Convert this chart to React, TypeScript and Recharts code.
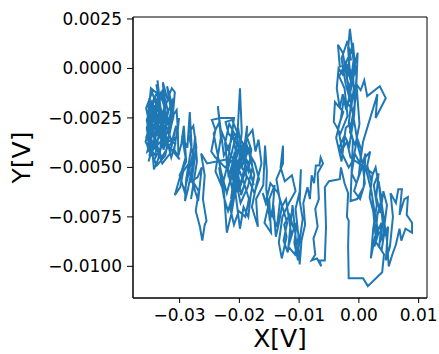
import { LineChart, Line, XAxis, YAxis, ReferenceArea } from "recharts";

// Trace of the probe voltage, walked segment by segment (volts)
const leftCluster: [number, number][] = [
  [-0.0342, -0.0031], [-0.0351, -0.0024], [-0.0338, -0.0038], [-0.0354, -0.0042], [-0.0344, -0.0029],
  [-0.033, -0.0035], [-0.0347, -0.0018], [-0.0336, -0.0011], [-0.034, -0.0027], [-0.0326, -0.0021],
  [-0.0333, -0.0043], [-0.0349, -0.0036], [-0.0355, -0.0026], [-0.0341, -0.0015], [-0.0329, -0.0028],
  [-0.0337, -0.0006], [-0.0333, -0.0019], [-0.0345, -0.004], [-0.0352, -0.0047], [-0.0339, -0.0033],
  [-0.0324, -0.0038], [-0.0331, -0.0024], [-0.032, -0.0016], [-0.0328, -0.0007], [-0.0323, -0.003],
  [-0.0336, -0.0046], [-0.0343, -0.0051], [-0.0348, -0.0032], [-0.0356, -0.002], [-0.0346, -0.0012],
  [-0.0334, -0.0023], [-0.0327, -0.0041], [-0.0318, -0.0034], [-0.0314, -0.0022], [-0.0321, -0.0009],
  [-0.0311, -0.002], [-0.0319, -0.0031], [-0.0332, -0.0037], [-0.035, -0.0043], [-0.0344, -0.0023],
  [-0.0337, -0.0017], [-0.0325, -0.0027], [-0.0313, -0.0037], [-0.0306, -0.0029], [-0.0316, -0.0043],
  [-0.0329, -0.0048], [-0.034, -0.0039], [-0.0353, -0.0034], [-0.0347, -0.0025], [-0.0335, -0.003],
  [-0.0322, -0.0024], [-0.031, -0.0015], [-0.0318, -0.0027], [-0.0332, -0.0013], [-0.0339, -0.0021],
  [-0.0351, -0.0015], [-0.0343, -0.0035], [-0.033, -0.0045], [-0.032, -0.004], [-0.0304, -0.0034],
  [-0.0301, -0.0025], [-0.0309, -0.0041], [-0.03, -0.0046],
];

const leftClusterReturn: [number, number][] = [
  [-0.0349, -0.0028], [-0.0356, -0.0035], [-0.0346, -0.0039], [-0.0352, -0.0019], [-0.0343, -0.0026],
  [-0.0335, -0.0015], [-0.0339, -0.0008], [-0.0331, -0.0016], [-0.0327, -0.001], [-0.0323, -0.0019],
  [-0.0334, -0.0032], [-0.0341, -0.0044], [-0.035, -0.004], [-0.0355, -0.003], [-0.0345, -0.0021],
  [-0.0333, -0.0027], [-0.0326, -0.0035], [-0.0315, -0.003], [-0.031, -0.0024], [-0.0317, -0.0013],
  [-0.0313, -0.001], [-0.0308, -0.0012], [-0.0312, -0.0026], [-0.0324, -0.0044], [-0.0338, -0.0049],
  [-0.0346, -0.0044], [-0.0357, -0.0037], [-0.035, -0.0031], [-0.0341, -0.0036], [-0.0331, -0.0021],
  [-0.0336, -0.0013], [-0.0348, -0.001], [-0.0353, -0.0025], [-0.034, -0.003], [-0.0328, -0.0033],
  [-0.0319, -0.0022], [-0.0325, -0.0015], [-0.033, -0.0039], [-0.0344, -0.0047], [-0.0335, -0.0042],
  [-0.0322, -0.0036], [-0.0307, -0.0038], [-0.0314, -0.0045], [-0.0327, -0.0029], [-0.0337, -0.0024],
  [-0.0347, -0.0033], [-0.0354, -0.004], [-0.0342, -0.002], [-0.033, -0.0012], [-0.032, -0.0028],
  [-0.0305, -0.0021], [-0.0303, -0.0031],
];

const trailOut: [number, number][] = [
  [-0.0302, -0.0044], [-0.0297, -0.0038], [-0.0293, -0.0029], [-0.0289, -0.0047], [-0.03, -0.0054],
  [-0.0292, -0.0062], [-0.0284, -0.0052], [-0.0278, -0.0043], [-0.0285, -0.0033], [-0.0277, -0.0029],
  [-0.0272, -0.004], [-0.028, -0.0057], [-0.027, -0.0055], [-0.0263, -0.005], [-0.0269, -0.0067],
  [-0.0276, -0.006], [-0.0287, -0.0049],
];

const leftTrail: [number, number][] = [
  [-0.0294, -0.0052], [-0.0299, -0.006], [-0.0308, -0.0064], [-0.029, -0.0045], [-0.0296, -0.0034],
  [-0.0287, -0.004], [-0.0283, -0.0022], [-0.028, -0.0039], [-0.0289, -0.0056], [-0.0291, -0.0067],
  [-0.0286, -0.0061], [-0.0279, -0.005], [-0.0274, -0.0034], [-0.0271, -0.0047], [-0.0281, -0.0066],
  [-0.0276, -0.0058], [-0.0268, -0.0062], [-0.0273, -0.0072], [-0.0266, -0.008], [-0.0262, -0.0087],
  [-0.0258, -0.0079], [-0.0255, -0.0077], [-0.0261, -0.0066], [-0.0258, -0.0054], [-0.0264, -0.0043],
  [-0.0254, -0.0048],
];

const midCore: [number, number][] = [
  [-0.0222, -0.0046], [-0.0215, -0.0058], [-0.0208, -0.0042], [-0.0201, -0.0053], [-0.0194, -0.0038],
  [-0.0188, -0.0055], [-0.0197, -0.0064], [-0.0205, -0.0047], [-0.0212, -0.0061], [-0.0219, -0.0051],
  [-0.021, -0.0039], [-0.0202, -0.003], [-0.0195, -0.0045], [-0.0185, -0.0052], [-0.018, -0.0041],
  [-0.0188, -0.0034], [-0.0199, -0.005], [-0.0206, -0.006], [-0.0213, -0.0054], [-0.0221, -0.0063],
  [-0.023, -0.0053], [-0.0238, -0.0041], [-0.0243, -0.0033], [-0.0235, -0.0028], [-0.0227, -0.0034],
  [-0.0216, -0.0043], [-0.0203, -0.0049], [-0.0192, -0.0058], [-0.0184, -0.0066], [-0.019, -0.0075],
  [-0.0201, -0.0072], [-0.0209, -0.0079], [-0.0215, -0.0071], [-0.0206, -0.0055], [-0.0198, -0.0042],
  [-0.0186, -0.0047], [-0.0176, -0.0059], [-0.0182, -0.0052], [-0.0191, -0.0044], [-0.0204, -0.0038],
  [-0.0218, -0.0033], [-0.0223, -0.0027], [-0.0212, -0.0026], [-0.02, -0.0035], [-0.0187, -0.0041],
  [-0.0174, -0.0048], [-0.0167, -0.0056], [-0.0175, -0.0063], [-0.0183, -0.0057], [-0.0194, -0.0051],
  [-0.0207, -0.0045], [-0.0224, -0.005], [-0.024, -0.0045],
];

const midCluster: [number, number][] = [
  [-0.0247, -0.0042], [-0.024, -0.0031], [-0.0246, -0.0026], [-0.0232, -0.0025], [-0.0209, -0.0025],
  [-0.0214, -0.0037], [-0.0226, -0.0044], [-0.0236, -0.0019], [-0.0231, -0.0035], [-0.024, -0.0052],
  [-0.0229, -0.006], [-0.022, -0.0049], [-0.0212, -0.0031], [-0.0205, -0.0044], [-0.0199, -0.001],
  [-0.0196, -0.0032], [-0.0203, -0.0055], [-0.0214, -0.0066], [-0.0207, -0.005], [-0.0193, -0.0043],
  [-0.0187, -0.0029], [-0.0191, -0.0053], [-0.02, -0.0061], [-0.021, -0.0046], [-0.0218, -0.0055],
  [-0.0224, -0.0038], [-0.0217, -0.0028], [-0.0203, -0.0036], [-0.0195, -0.0049], [-0.0183, -0.004],
  [-0.0178, -0.005], [-0.0186, -0.006], [-0.0198, -0.0068], [-0.0205, -0.0058], [-0.0219, -0.0072],
  [-0.0226, -0.0065], [-0.0234, -0.005], [-0.0227, -0.0057], [-0.0221, -0.0083], [-0.0213, -0.0073],
  [-0.0208, -0.0064], [-0.0196, -0.0056], [-0.0189, -0.0047], [-0.0201, -0.0041], [-0.0211, -0.0052],
  [-0.0199, -0.0081], [-0.0193, -0.007], [-0.0185, -0.0075], [-0.0181, -0.0064], [-0.0175, -0.0054],
  [-0.0182, -0.0045], [-0.019, -0.0036], [-0.0178, -0.0031], [-0.0173, -0.0042], [-0.0168, -0.0036],
  [-0.0163, -0.0048], [-0.0171, -0.0058], [-0.0179, -0.007], [-0.0169, -0.008], [-0.0172, -0.0066],
  [-0.016, -0.0059], [-0.0157, -0.0039], [-0.0154, -0.0052],
];

const lowerLoop: [number, number][] = [
  [-0.0155, -0.0061], [-0.0149, -0.0077], [-0.0143, -0.0069], [-0.0139, -0.0085], [-0.0133, -0.0077],
  [-0.0129, -0.007], [-0.0122, -0.0066], [-0.0113, -0.0084], [-0.0104, -0.0078], [-0.0108, -0.0088],
  [-0.0102, -0.0097], [-0.0111, -0.0069], [-0.0119, -0.0093], [-0.0126, -0.0087], [-0.012, -0.0078],
  [-0.0135, -0.0063], [-0.0148, -0.0058], [-0.0156, -0.0068],
];

const lowerRun: [number, number][] = [
  [-0.0161, -0.0063], [-0.0152, -0.007], [-0.0158, -0.0078], [-0.0147, -0.0083], [-0.015, -0.0066],
  [-0.0141, -0.0059], [-0.0145, -0.0074], [-0.0137, -0.008], [-0.0132, -0.0067], [-0.0138, -0.0056],
  [-0.0127, -0.0048], [-0.0127, -0.0039], [-0.0131, -0.005], [-0.0124, -0.0057], [-0.0112, -0.0054],
  [-0.0106, -0.0062], [-0.0117, -0.0068], [-0.0128, -0.0075], [-0.0134, -0.0088], [-0.0129, -0.0096],
  [-0.0121, -0.0085], [-0.0125, -0.0079], [-0.0116, -0.0074], [-0.0109, -0.0081], [-0.0118, -0.009],
  [-0.0107, -0.0094], [-0.0101, -0.0085], [-0.0106, -0.0071], [-0.0099, -0.0062], [-0.0097, -0.0051],
  [-0.0099, -0.0067], [-0.0094, -0.0076], [-0.0101, -0.0091], [-0.0099, -0.0099], [-0.0096, -0.0087],
  [-0.009, -0.0079], [-0.0093, -0.0068], [-0.0086, -0.006], [-0.0082, -0.0066], [-0.0079, -0.0054],
  [-0.0075, -0.0058], [-0.0072, -0.0049], [-0.0066, -0.0049], [-0.0064, -0.0045], [-0.006, -0.0048],
  [-0.0069, -0.0053], [-0.0067, -0.0066], [-0.0073, -0.0071], [-0.0069, -0.008], [-0.0076, -0.0086],
  [-0.0073, -0.0094], [-0.0079, -0.0097], [-0.007, -0.0096], [-0.0063, -0.01], [-0.0066, -0.0097],
];

const returnJump: [number, number][] = [
  [-0.0057, -0.0097], [-0.0055, -0.008], [-0.0057, -0.006], [-0.005, -0.0057], [-0.0032, -0.0056],
  [-0.003, -0.005], [-0.0024, -0.0058], [-0.0018, -0.0063], [-0.002, -0.0075], [-0.0017, -0.0077],
  [-0.0018, -0.009], [-0.0017, -0.0106], [0.0007, -0.0106], [0.0015, -0.011],
];

const rightLower: [number, number][] = [
  [0.0039, -0.0103], [0.0042, -0.0094], [0.0034, -0.009], [0.0038, -0.0078], [0.0027, -0.0085],
  [0.002, -0.0096], [0.0024, -0.0081], [0.003, -0.0069], [0.0025, -0.0059], [0.0033, -0.0053],
  [0.0029, -0.0065], [0.0036, -0.0073], [0.0041, -0.0062], [0.0047, -0.0069], [0.004, -0.0086],
  [0.0049, -0.008], [0.0045, -0.0097], [0.0052, -0.009], [0.0057, -0.0075], [0.0053, -0.0063],
  [0.0062, -0.0068], [0.0066, -0.0061], [0.0072, -0.0061], [0.0068, -0.0074], [0.0076, -0.0066],
  [0.0082, -0.0065], [0.008, -0.0074], [0.0089, -0.0078], [0.0089, -0.0083], [0.0078, -0.0081],
  [0.0071, -0.0087], [0.0068, -0.0081], [0.0062, -0.0089], [0.0056, -0.0094], [0.005, -0.01],
  [0.0047, -0.0087], [0.0039, -0.007], [0.0034, -0.006], [0.0028, -0.005], [0.002, -0.0056],
  [0.0014, -0.0049], [0.0019, -0.0042], [0.0008, -0.0046],
];

const rightLowerCore: [number, number][] = [
  [0.0021, -0.0062], [0.0028, -0.0076], [0.0033, -0.0083], [0.0026, -0.009], [0.0031, -0.0074],
  [0.0038, -0.0066], [0.0033, -0.0057], [0.004, -0.0078], [0.0035, -0.0088], [0.0043, -0.0082],
  [0.0038, -0.0092], [0.0029, -0.0088], [0.0024, -0.0072], [0.0018, -0.0065], [0.0023, -0.0053],
];

const rightUpper: [number, number][] = [
  [-0.0014, -0.0045], [-0.002, -0.0037], [-0.0028, -0.0041], [-0.0035, -0.003], [-0.0026, -0.0022],
  [-0.004, -0.0017], [-0.0042, -0.0027], [-0.0031, -0.0033], [-0.0019, -0.0024], [-0.0024, -0.001],
  [-0.0033, -0.0004], [-0.0022, 0.0003], [-0.0014, -0.0006], [-0.0018, 0.001], [-0.0015, 0.002],
  [-0.0009, 0.0004], [-0.0016, -0.0012], [-0.0027, 0.0008], [-0.0035, 0.0012], [-0.0032, 0.0001],
  [-0.0017, 0.0002], [-0.0008, -0.0009], [-0.0013, -0.002], [-0.0025, -0.0015], [-0.003, -0.0025],
  [-0.0038, -0.0035], [-0.0029, -0.0047], [-0.0022, -0.003], [-0.0011, -0.0027], [-0.0005, -0.0014],
  [-0.0002, 0.0008], [-0.001, -0.0002], [-0.0007, -0.0018], [-0.0015, -0.0032], [-0.0006, -0.0039],
  [0.0001, -0.0028], [-0.0004, -0.0008], [0.0003, -0.0011], [0.0009, -0.0006], [0.0014, -0.0014],
  [0.0035, -0.0009], [0.0045, -0.0015], [0.0028, -0.0025], [0.0031, -0.0013], [0.0015, -0.0029],
  [0.0007, -0.0037], [0.0002, -0.0048], [-0.0007, -0.0043], [-0.0012, -0.0053], [-0.0004, -0.0058],
  [0.0004, -0.0051], [0.0011, -0.0043], [0.0008, -0.006], [-0.0003, -0.0066], [-0.0014, -0.0067],
];

const rightUpperCore: [number, number][] = [
  [-0.001, -0.0036], [-0.0017, -0.0028], [-0.0012, -0.0015], [-0.002, -0.0005], [-0.0015, 0.0007],
  [-0.001, 0.0013], [-0.0006, 0.0], [-0.0013, -0.001], [-0.0021, -0.0021], [-0.0027, -0.0013],
  [-0.0032, -0.002], [-0.0037, -0.001], [-0.0034, 0.0], [-0.0027, -0.0003], [-0.0019, 0.0005],
  [-0.0011, 0.0009], [-0.0004, -0.0004], [-0.0008, -0.0024], [-0.0016, -0.0039], [-0.0024, -0.0034],
  [-0.0033, -0.004], [-0.0025, -0.0045], [-0.0017, -0.005], [-0.0009, -0.0046], [-0.0003, -0.0035],
  [0.0004, -0.0041], [0.0, -0.0054], [-0.0008, -0.0062], [0.0002, -0.0066], [0.001, -0.0058],
  [0.0006, -0.0048], [-0.0001, -0.004], [-0.0006, -0.003], [-0.0013, -0.0018], [-0.0022, -0.0008],
  [-0.0029, 0.0005], [-0.0019, 0.0014], [-0.0013, 0.0004],
];

const xTicks = [-0.03, -0.02, -0.01, 0, 0.01];
const yTicks = [0.0025, 0, -0.0025, -0.005, -0.0075, -0.01];
const xRange: [number, number] = [-0.0378, 0.0114];
const yRange: [number, number] = [-0.0116, 0.0026];

const trace = [
  ...leftCluster,
  ...leftClusterReturn,
  ...trailOut,
  ...leftTrail,
  ...midCore,
  ...midCluster,
  ...lowerLoop,
  ...lowerRun,
  ...returnJump,
  ...rightLower,
  ...rightLowerCore,
  ...rightUpper,
  ...rightUpperCore,
].map(([x, y]) => ({ x, y }));

const minus = (s: string) => s.replace("-", "\u2212");
const fmtX = (v: number) => minus(v.toFixed(2));
const fmtY = (v: number) => minus(v.toFixed(4));

const font = "'DejaVu Sans', sans-serif";
const tickStyle = { fontSize: 17, fill: "#000", fontFamily: font };

const XTitle = (props: any) => {
  const { x, y, width } = props.viewBox;
  return (
    <text x={x + width / 2} y={y + 49} textAnchor="middle" fontSize={25} fontFamily={font} fill="#000">
      X[V]
    </text>
  );
};

const YTitle = (props: any) => {
  const { y, height } = props.viewBox;
  const cx = 30;
  const cy = y + height / 2;
  return (
    <text
      x={cx}
      y={cy}
      transform={`rotate(-90, ${cx}, ${cy})`}
      textAnchor="middle"
      fontSize={25}
      fontFamily={font}
      fill="#000"
    >
      Y[V]
    </text>
  );
};

export default function App() {
  return (
    <div style={{ position: "absolute", left: 0, top: 0, background: "#fff" }}>
      <LineChart
        width={439}
        height={354}
        data={trace}
        margin={{ top: 17, right: 12, bottom: 0, left: 0 }}
      >
        <XAxis
          dataKey="x"
          type="number"
          domain={xRange}
          allowDataOverflow
          ticks={xTicks}
          tickFormatter={fmtX}
          tick={tickStyle}
          tickSize={5}
          tickMargin={6}
          height={56}
          stroke="#000"
          label={<XTitle />}
        />
        <YAxis
          dataKey="y"
          type="number"
          domain={yRange}
          allowDataOverflow
          ticks={yTicks}
          tickFormatter={fmtY}
          tick={tickStyle}
          tickSize={6}
          tickMargin={5}
          width={133}
          stroke="#000"
          label={<YTitle />}
        />
        <ReferenceArea
          x1={xRange[0]}
          x2={xRange[1]}
          y1={yRange[0]}
          y2={yRange[1]}
          fill="none"
          stroke="#000"
          strokeWidth={1}
        />
        <Line
          dataKey="y"
          type="linear"
          stroke="#1f77b4"
          strokeWidth={2}
          dot={false}
          isAnimationActive={false}
        />
      </LineChart>
    </div>
  );
}
